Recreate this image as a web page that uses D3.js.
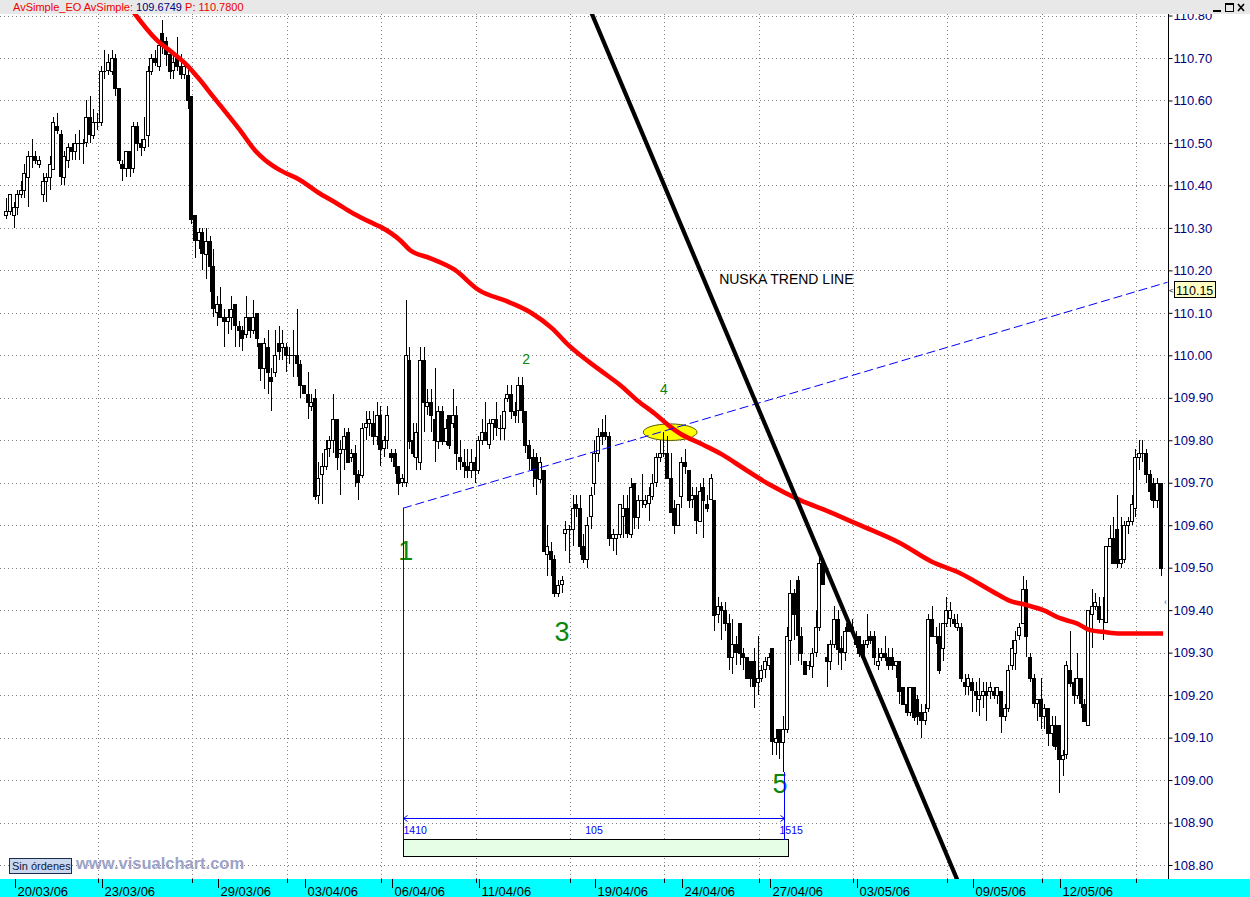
<!DOCTYPE html>
<html><head><meta charset="utf-8">
<script src="https://cdn.jsdelivr.net/npm/d3@7"></script>
<style>
body{margin:0;background:#fff}
svg{display:block}
text{font-family:"Liberation Sans",Arial,sans-serif}
</style>
</head><body>
<svg id="c" width="1250" height="897"></svg>
<script>
// ---------------- DATA ----------------
const barStart = 1301; // bar number of first candle
const opens = [
110.33,110.34,110.33,110.35,110.38,110.39,110.42,110.47,110.47,110.45,
110.38,110.41,110.42,110.44,110.54,110.52,110.42,110.46,110.49,110.48,
110.50,110.50,110.50,110.56,110.52,110.55,110.55,110.67,110.67,110.67,
110.70,110.63,110.45,110.44,110.48,110.44,110.54,110.50,110.49,110.52,
110.67,110.70,110.68,110.76,110.74,110.71,110.67,110.70,110.68,110.66,
110.66,110.61,110.33,110.27,110.29,110.24,110.27,110.21,110.10,110.12,
110.09,110.08,110.09,110.12,110.07,110.06,110.05,110.09,110.06,110.10,
110.03,109.97,110.02,109.95,109.96,110.03,110.02,110.02,110.00,110.00,
110.00,109.98,109.93,109.91,109.88,109.90,109.67,109.72,109.74,109.78,
109.80,109.85,109.77,109.78,109.82,109.76,109.77,109.72,109.72,109.83,
109.84,109.84,109.81,109.86,109.78,109.80,109.77,109.77,109.74,109.70,
109.70,109.99,109.80,109.76,109.75,109.99,109.88,109.89,109.85,109.80,
109.87,109.80,109.86,109.84,109.86,109.76,109.75,109.74,109.73,109.75,
109.73,109.80,109.82,109.79,109.84,109.85,109.83,109.83,109.90,109.91,
109.87,109.87,109.93,109.87,109.79,109.76,109.76,109.71,109.73,109.53,
109.54,109.52,109.44,109.46,109.58,109.59,109.59,109.65,109.64,109.55,
109.52,109.62,109.70,109.77,109.82,109.82,109.81,109.57,109.57,109.58,
109.62,109.64,109.58,109.70,109.62,109.66,109.65,109.65,109.67,109.70,
109.76,109.77,109.77,109.71,109.64,109.60,109.67,109.75,109.73,109.66,
109.67,109.61,109.69,109.65,109.66,109.66,109.39,109.41,109.40,109.37,
109.29,109.32,109.37,109.30,109.29,109.28,109.28,109.23,109.24,109.26,
109.27,109.31,109.09,109.12,109.09,109.12,109.33,109.44,109.47,109.34,
109.28,109.27,109.27,109.30,109.36,109.51,109.29,109.28,109.32,109.38,
109.31,109.30,109.37,109.35,109.33,109.34,109.32,109.32,109.34,109.34,
109.27,109.29,109.30,109.29,109.29,109.27,109.28,109.22,109.18,109.16,
109.22,109.19,109.16,109.14,109.17,109.38,109.34,109.34,109.31,109.37,
109.38,109.38,109.36,109.36,109.23,109.22,109.23,109.21,109.19,109.20,
109.21,109.21,109.21,109.20,109.21,109.15,109.17,109.27,109.30,109.34,
109.37,109.45,109.29,109.24,109.18,109.19,109.15,109.17,109.11,109.13,
109.13,109.05,109.06,109.26,109.23,109.20,109.24,109.18,109.13,109.39,
109.41,109.41,109.38,109.37,109.55,109.57,109.59,109.51,109.52,109.60,
109.61,109.64,109.76,109.77,109.77,109.72,109.70,109.66,109.70];
const highs = [
110.37,110.38,110.36,110.39,110.41,110.45,110.48,110.51,110.48,110.47,
110.43,110.43,110.47,110.56,110.57,110.53,110.48,110.50,110.50,110.52,
110.53,110.51,110.60,110.61,110.58,110.57,110.68,110.72,110.71,110.72,
110.71,110.63,110.46,110.48,110.48,110.55,110.55,110.51,110.56,110.68,
110.71,110.72,110.74,110.79,110.75,110.72,110.71,110.75,110.71,110.69,
110.68,110.61,110.33,110.30,110.30,110.30,110.28,110.25,110.14,110.16,
110.11,110.11,110.14,110.12,110.08,110.07,110.14,110.09,110.13,110.10,
110.03,110.04,110.06,109.97,110.06,110.07,110.06,110.03,110.02,110.06,
110.11,109.99,109.93,109.96,109.91,109.92,109.75,109.77,109.80,109.81,
109.91,109.85,109.80,109.83,109.83,109.78,109.79,109.73,109.84,109.87,
109.87,109.87,109.89,109.88,109.81,109.88,109.78,109.78,109.74,109.72,
110.13,110.02,109.84,109.84,110.02,110.02,109.92,109.92,109.97,109.88,
109.88,109.85,109.86,109.92,109.88,109.80,109.78,109.78,109.78,109.76,
109.81,109.85,109.89,109.85,109.85,109.89,109.86,109.90,109.93,109.93,
109.89,109.95,109.95,109.87,109.80,109.78,109.77,109.76,109.73,109.60,
109.56,109.53,109.47,109.48,109.61,109.60,109.67,109.67,109.67,109.58,
109.62,109.69,109.80,109.83,109.85,109.86,109.82,109.59,109.58,109.65,
109.67,109.67,109.71,109.70,109.67,109.72,109.67,109.69,109.72,109.77,
109.80,109.82,109.81,109.77,109.66,109.65,109.76,109.78,109.73,109.69,
109.69,109.70,109.71,109.67,109.72,109.66,109.43,109.42,109.42,109.39,
109.38,109.34,109.37,109.31,109.29,109.28,109.31,109.34,109.27,109.29,
109.30,109.31,109.12,109.12,109.15,109.36,109.47,109.45,109.48,109.36,
109.28,109.28,109.31,109.40,109.53,109.52,109.32,109.33,109.41,109.40,
109.34,109.36,109.37,109.38,109.35,109.34,109.33,109.39,109.35,109.35,
109.31,109.31,109.34,109.31,109.31,109.28,109.28,109.22,109.22,109.22,
109.22,109.20,109.18,109.18,109.39,109.41,109.36,109.37,109.37,109.43,
109.42,109.39,109.39,109.37,109.25,109.25,109.24,109.23,109.24,109.23,
109.23,109.23,109.22,109.22,109.21,109.18,109.27,109.33,109.35,109.37,
109.48,109.47,109.30,109.25,109.19,109.24,109.18,109.17,109.15,109.15,
109.13,109.07,109.28,109.35,109.24,109.30,109.24,109.19,109.40,109.45,
109.44,109.43,109.43,109.55,109.60,109.62,109.67,109.62,109.61,109.62,
109.67,109.78,109.80,109.80,109.78,109.73,109.71,109.71,109.70];
const lows = [
110.32,110.33,110.30,110.33,110.37,110.37,110.35,110.44,110.45,110.44,
110.36,110.36,110.39,110.44,110.52,110.40,110.40,110.44,110.46,110.46,
110.46,110.45,110.49,110.50,110.51,110.53,110.54,110.65,110.66,110.66,
110.61,110.45,110.41,110.42,110.42,110.43,110.48,110.47,110.48,110.49,
110.66,110.68,110.67,110.71,110.68,110.65,110.65,110.67,110.65,110.65,
110.58,110.31,110.23,110.25,110.20,110.18,110.15,110.09,110.07,110.09,
110.02,110.05,110.06,110.02,110.02,110.01,110.04,110.04,110.05,110.02,
109.94,109.92,109.91,109.87,109.95,109.99,109.99,109.96,109.98,109.95,
109.95,109.90,109.91,109.85,109.87,109.66,109.65,109.65,109.73,109.76,
109.77,109.73,109.67,109.73,109.75,109.75,109.69,109.66,109.71,109.80,
109.81,109.79,109.79,109.74,109.76,109.78,109.75,109.72,109.67,109.69,
109.69,109.78,109.76,109.73,109.73,109.82,109.86,109.82,109.75,109.78,
109.79,109.79,109.78,109.83,109.73,109.73,109.71,109.71,109.71,109.70,
109.72,109.79,109.81,109.78,109.80,109.81,109.80,109.80,109.89,109.85,
109.84,109.84,109.84,109.77,109.73,109.69,109.67,109.70,109.54,109.48,
109.48,109.43,109.43,109.44,109.54,109.51,109.55,109.62,109.53,109.51,
109.50,109.59,109.67,109.75,109.79,109.80,109.55,109.54,109.53,109.57,
109.57,109.57,109.57,109.59,109.59,109.64,109.64,109.61,109.66,109.69,
109.75,109.76,109.71,109.63,109.58,109.60,109.64,109.72,109.64,109.64,
109.58,109.61,109.57,109.63,109.66,109.35,109.37,109.33,109.35,109.26,
109.25,109.27,109.27,109.26,109.24,109.22,109.17,109.20,109.23,109.24,
109.26,109.06,109.06,109.05,109.02,109.11,109.27,109.33,109.28,109.27,
109.25,109.26,109.24,109.29,109.35,109.46,109.22,109.26,109.31,109.27,
109.26,109.28,109.35,109.35,109.31,109.29,109.28,109.31,109.32,109.27,
109.26,109.28,109.28,109.26,109.26,109.24,109.18,109.18,109.15,109.15,
109.14,109.13,109.10,109.13,109.16,109.34,109.32,109.25,109.28,109.36,
109.36,109.36,109.35,109.23,109.20,109.20,109.16,109.16,109.15,109.17,
109.14,109.19,109.19,109.18,109.11,109.14,109.16,109.26,109.26,109.33,
109.37,109.29,109.23,109.17,109.14,109.12,109.12,109.08,109.08,109.07,
108.97,109.01,109.05,109.22,109.18,109.19,109.17,109.14,109.13,109.31,
109.40,109.37,109.33,109.37,109.55,109.51,109.50,109.50,109.51,109.58,
109.60,109.62,109.73,109.75,109.70,109.66,109.64,109.64,109.48];
const closes = [
110.34,110.38,110.35,110.38,110.39,110.43,110.47,110.47,110.46,110.46,
110.41,110.42,110.45,110.55,110.53,110.42,110.47,110.49,110.48,110.50,
110.50,110.50,110.56,110.52,110.55,110.55,110.67,110.67,110.69,110.70,
110.63,110.46,110.44,110.48,110.44,110.54,110.50,110.49,110.51,110.67,
110.70,110.69,110.73,110.73,110.71,110.67,110.69,110.68,110.66,110.68,
110.60,110.32,110.27,110.29,110.24,110.27,110.21,110.11,110.12,110.09,
110.08,110.09,110.11,110.07,110.06,110.04,110.09,110.06,110.09,110.04,
109.97,110.03,109.96,109.94,110.00,110.01,110.03,110.00,110.00,110.00,
109.98,109.93,109.91,109.89,109.89,109.67,109.71,109.74,109.78,109.80,
109.85,109.76,109.78,109.81,109.75,109.77,109.72,109.70,109.83,109.84,
109.85,109.81,109.86,109.78,109.80,109.86,109.76,109.74,109.70,109.71,
110.00,109.80,109.77,109.82,109.99,109.89,109.89,109.86,109.80,109.87,
109.80,109.83,109.79,109.86,109.77,109.75,109.74,109.73,109.75,109.73,
109.80,109.82,109.80,109.84,109.85,109.83,109.83,109.87,109.91,109.87,
109.86,109.93,109.87,109.79,109.76,109.73,109.71,109.75,109.54,109.55,
109.52,109.44,109.46,109.47,109.59,109.59,109.64,109.64,109.55,109.52,
109.60,109.67,109.77,109.81,109.81,109.81,109.57,109.58,109.58,109.65,
109.64,109.58,109.69,109.62,109.66,109.66,109.66,109.67,109.70,109.76,
109.77,109.77,109.71,109.63,109.60,109.65,109.75,109.74,109.66,109.67,
109.61,109.68,109.66,109.64,109.71,109.39,109.41,109.40,109.37,109.29,
109.32,109.30,109.30,109.29,109.24,109.24,109.22,109.24,109.26,109.28,
109.29,109.09,109.10,109.09,109.12,109.34,109.44,109.39,109.34,109.30,
109.25,109.27,109.30,109.36,109.51,109.46,109.28,109.32,109.38,109.31,
109.30,109.35,109.35,109.36,109.32,109.30,109.29,109.33,109.33,109.29,
109.28,109.30,109.29,109.27,109.27,109.28,109.21,109.18,109.16,109.22,
109.15,109.15,109.14,109.16,109.38,109.34,109.34,109.26,109.37,109.40,
109.40,109.37,109.37,109.24,109.22,109.24,109.21,109.20,109.20,109.21,
109.20,109.22,109.20,109.22,109.15,109.17,109.26,109.31,109.33,109.36,
109.45,109.34,109.24,109.18,109.19,109.15,109.17,109.11,109.13,109.08,
109.05,109.06,109.27,109.23,109.20,109.24,109.18,109.14,109.40,109.41,
109.42,109.38,109.38,109.55,109.57,109.51,109.51,109.52,109.60,109.61,
109.65,109.76,109.77,109.77,109.72,109.68,109.66,109.70,109.50];

// simple moving average (red) at bar positions
const smaIdx = [33.3,41.2,45.7,49.4,53.1,56.7,58.6,64.1,68.2,71.0,75.1,80.6,86.1,90.7,95.3,99.9,102.7,108.2,110.9,116.4,123.3,129.8,138.0,144.5,150.0,154.6,163.3,168.8,173.4,178.9,182.6,185.3,191.8,197.2,202.8,210.1,218.4,226.6,234.9,245.9,254.7,262.5,271.6,276.2,280.8,285.4,290.0,294.6,298.3,301.9,306.5,318.4];
const smaVal = [110.825,110.742,110.711,110.684,110.648,110.609,110.589,110.530,110.483,110.460,110.436,110.413,110.381,110.358,110.334,110.314,110.303,110.271,110.248,110.229,110.201,110.154,110.126,110.099,110.064,110.024,109.965,109.930,109.895,109.859,109.832,109.816,109.789,109.765,109.734,109.695,109.659,109.631,109.600,109.558,109.514,109.487,109.443,109.422,109.412,109.400,109.381,109.369,109.353,109.349,109.345,109.345];

// NUSKA trend line (black) and channel line (blue dashed): two anchors each
const trendIdx = [160, 262];
const trendVal = [110.825, 108.759];
const chanIdx = [109, 319.6];
const chanVal = [109.640, 110.172];
const chanLabel = "110.15";

// price axis
const yTicks = [110.80,110.70,110.60,110.50,110.40,110.30,110.20,110.10,110.00,109.90,109.80,109.70,109.60,109.50,109.40,109.30,109.20,109.10,109.00,108.90,108.80];
// date axis
const dateLabels = ["20/03/06","23/03/06","29/03/06","03/04/06","06/04/06","11/04/06","19/04/06","24/04/06","27/04/06","03/05/06","09/05/06","12/05/06"];
const dateIdx = [2,26,58,82,106,130,162,186,210,234,266,290];
const gridIdx = [25,51,77,103,129,155,181,207,233,259,285,311];

// wave count labels
const waveText = ["1","2","3","4","5"];
const waveIdx = [109.8,142.9,152.8,180.9,212.9];
const waveVal = [109.542,109.991,109.351,109.921,108.993];
const waveBig = [true,false,true,false,true];

// marked point (yellow ellipse)
const markIdx = 182.6, markVal = 109.819;
// measurement between bars
const measureIdx = [109, 214];
const noteText = "NUSKA TREND LINE", noteIdx = 196.1, noteVal = 110.18;

// ---------------- CHART ----------------
const W = 1250, H = 897;
const plotL = 0, plotR = 1168, plotT = 14, plotB = 879;
const svg = d3.select("#c");

const x = d3.scaleLinear().domain([0, 318]).range([7.3, 7.3 + 318 * 3.63]);
const y = d3.scaleLinear().domain([108.8, 110.7]).range([865, 58]);

svg.append("rect").attr("width", W).attr("height", H).attr("fill", "#fff");

const defs = svg.append("defs");
defs.append("clipPath").attr("id", "plotclip").append("rect")
  .attr("x", plotL).attr("y", plotT).attr("width", plotR - plotL).attr("height", plotB - plotT);

const plot = svg.append("g").attr("clip-path", "url(#plotclip)");

// grid
plot.append("g").selectAll("line").data(yTicks).join("line")
  .attr("x1", 0).attr("x2", plotR)
  .attr("y1", d => Math.round(y(d)) + 0.5).attr("y2", d => Math.round(y(d)) + 0.5)
  .attr("stroke", "#808080").attr("stroke-dasharray", "1,3");
plot.append("g").selectAll("line").data(gridIdx).join("line")
  .attr("x1", d => Math.round(x(d)) + 0.5).attr("x2", d => Math.round(x(d)) + 0.5)
  .attr("y1", plotT).attr("y2", plotB)
  .attr("stroke", "#808080").attr("stroke-dasharray", "1,3");

// yellow ellipse
const ex = x(markIdx), ey = y(markVal);
plot.append("ellipse").attr("cx", ex).attr("cy", ey)
  .attr("rx", x(markIdx + 7.4) - ex).attr("ry", y(markVal - 0.0195) - ey)
  .attr("fill", "#ffff00").attr("stroke", "#5a5a00").attr("stroke-width", 1);

// candles
const bars = d3.range(closes.length).map(i => ({i, o: opens[i], h: highs[i], l: lows[i], c: closes[i]}));
const cg = plot.append("g").attr("shape-rendering", "crispEdges");
const cand = cg.selectAll("g").data(bars).join("g");
cand.append("line")
  .attr("x1", d => Math.round(x(d.i)) - 0.5).attr("x2", d => Math.round(x(d.i)) - 0.5)
  .attr("y1", d => y(d.h)).attr("y2", d => y(d.l))
  .attr("stroke", "#000").attr("stroke-width", 1);
cand.append("rect")
  .attr("x", d => Math.round(x(d.i)) - 2.5)
  .attr("y", d => Math.round(y(Math.max(d.o, d.c))) + 0.5)
  .attr("width", 3)
  .attr("height", d => Math.max(0.01, Math.round(Math.abs(y(d.o) - y(d.c)))))
  .attr("fill", d => d.c >= d.o ? "#fff" : "#000")
  .attr("stroke", "#000").attr("stroke-width", 1);

// red SMA
plot.append("path")
  .datum(smaIdx.map((k, j) => [k, smaVal[j]]))
  .attr("d", d3.line().x(d => x(d[0])).y(d => y(d[1])).curve(d3.curveMonotoneX))
  .attr("fill", "none").attr("stroke", "#ff0000").attr("stroke-width", 4.6)
  .attr("stroke-linejoin", "round");

// blue dashed channel line
plot.append("line")
  .attr("x1", x(chanIdx[0])).attr("y1", y(chanVal[0]))
  .attr("x2", x(chanIdx[1])).attr("y2", y(chanVal[1]))
  .attr("stroke", "#0000ff").attr("stroke-width", 1).attr("stroke-dasharray", "9,4");

// black trend line
plot.append("line")
  .attr("x1", x(trendIdx[0])).attr("y1", y(trendVal[0]))
  .attr("x2", x(trendIdx[1])).attr("y2", y(trendVal[1]))
  .attr("stroke", "#000").attr("stroke-width", 4.2);

// annotation text
plot.append("text").attr("x", x(noteIdx)).attr("y", y(noteVal) + 5)
  .attr("font-size", 14).attr("fill", "#000").text(noteText);

// wave labels
plot.append("g").selectAll("text").data(waveText).join("text")
  .attr("x", (d, j) => x(waveIdx[j])).attr("y", (d, j) => y(waveVal[j]))
  .attr("dy", "0.36em").attr("text-anchor", "middle")
  .attr("font-size", (d, j) => waveBig[j] ? 27 : 14)
  .attr("fill", "#0a870a").text(d => d);

// measurement tool
const mx0 = Math.round(x(measureIdx[0])) + 0.5, mx1 = Math.round(x(measureIdx[1])) + 0.5;
const mg = plot.append("g").attr("shape-rendering", "crispEdges");
mg.append("rect").attr("x", mx0 - 0.5).attr("y", 839.5).attr("width", mx1 - mx0 + 4).attr("height", 17)
  .attr("fill", "#e6fde6").attr("stroke", "#000");
mg.append("line").attr("x1", mx0).attr("x2", mx0).attr("y1", y(chanVal[0])).attr("y2", 840)
  .attr("stroke", "#0000ff");
mg.append("line").attr("x1", mx1).attr("x2", mx1).attr("y1", y(lows[measureIdx[1]])).attr("y2", 840)
  .attr("stroke", "#0000ff");
mg.append("line").attr("x1", mx0).attr("x2", mx1).attr("y1", 818.5).attr("y2", 818.5)
  .attr("stroke", "#0000ff");
plot.append("path").attr("d", `M${mx0+4},815.5L${mx0},818.5L${mx0+4},821.5 M${mx1-4},815.5L${mx1},818.5L${mx1-4},821.5`)
  .attr("fill", "none").attr("stroke", "#0000ff");
const mtxt = plot.append("g").attr("font-size", 10.5).attr("fill", "#0000ff");
mtxt.append("text").attr("x", mx0).attr("y", 834).text(barStart + measureIdx[0]);
mtxt.append("text").attr("x", (mx0 + mx1) / 2).attr("y", 834).attr("text-anchor", "middle")
  .text(measureIdx[1] - measureIdx[0]);
mtxt.append("text").attr("x", mx1 - 5).attr("y", 834).text(barStart + measureIdx[1]);

// watermark & order box
svg.append("rect").attr("x", 9.5).attr("y", 858.5).attr("width", 62).attr("height", 15)
  .attr("fill", "#c9d7ef").attr("stroke", "#1c2c4c");
svg.append("text").attr("x", 12).attr("y", 870).attr("font-size", 11).attr("fill", "#102040").text("Sin órdenes");
svg.append("text").attr("x", 76).attr("y", 869).attr("font-size", 16.5).attr("font-weight", "bold")
  .attr("fill", "#9da2ca").text("www.visualchart.com");

// right price axis
const ax = svg.append("g").attr("transform", `translate(${plotR + 0.5},0)`)
  .call(d3.axisRight(y).tickValues(yTicks).tickFormat(d3.format(".2f")).tickSize(4).tickPadding(1));
ax.select(".domain").remove();
ax.selectAll(".tick line").attr("stroke", "#000");
ax.selectAll(".tick text").attr("fill", "#000080").attr("font-size", 13)
  .attr("font-family", '"Liberation Sans",Arial,sans-serif');
svg.append("line").attr("x1", plotR + 0.5).attr("x2", plotR + 0.5).attr("y1", plotT).attr("y2", plotB)
  .attr("stroke", "#000");

// channel value label
const ly = Math.round(y(chanVal[1])) + 8;
svg.append("rect").attr("x", 1174.5).attr("y", ly - 8.5).attr("width", 41).attr("height", 16)
  .attr("fill", "#ffffc4").attr("stroke", "#000");
svg.append("text").attr("x", 1176).attr("y", ly + 4.5).attr("font-size", 12.5).attr("fill", "#000").text(chanLabel);
svg.append("text").attr("x", 1169).attr("y", ly + 3).attr("font-size", 8).attr("fill", "#000").text("<");
svg.append("text").attr("x", 1164).attr("y", y(closes[closes.length - 1]) + 37).attr("font-size", 9)
  .attr("fill", "#4060c0").text("‹");

// date strip
svg.append("rect").attr("x", 0).attr("y", plotB).attr("width", W).attr("height", H - plotB).attr("fill", "#00ffff");
const dg = svg.append("g");
dg.selectAll("line.g").data(gridIdx).join("line").attr("class", "g")
  .attr("x1", d => Math.round(x(d)) + 0.5).attr("x2", d => Math.round(x(d)) + 0.5)
  .attr("y1", plotB).attr("y2", plotB + 4).attr("stroke", "#000");
dg.selectAll("line.d").data(dateIdx).join("line").attr("class", "d")
  .attr("x1", d => Math.round(x(d)) + 0.5).attr("x2", d => Math.round(x(d)) + 0.5)
  .attr("y1", plotB).attr("y2", plotB + 9).attr("stroke", "#000");
dg.selectAll("text").data(dateLabels).join("text")
  .attr("x", (d, j) => Math.round(x(dateIdx[j])) + 2.5).attr("y", 895.5)
  .attr("font-size", 13).attr("fill", "#000").text(d => d);

// header bar
svg.append("rect").attr("x", 0).attr("y", 0).attr("width", W).attr("height", plotT).attr("fill", "#e8e8e8");
const ht = svg.append("text").attr("x", 13).attr("y", 11).attr("font-size", 11);
ht.append("tspan").attr("fill", "#ee0000").text("AvSimple_EO  AvSimple: ");
ht.append("tspan").attr("fill", "#000080").text("109.6749");
ht.append("tspan").attr("fill", "#ee0000").text("  P: 110.7800");
const btn = svg.append("g").attr("shape-rendering", "crispEdges");
btn.append("rect").attr("x", 1213).attr("y", 10).attr("width", 8).attr("height", 2).attr("fill", "#000");
btn.append("rect").attr("x", 1225.5).attr("y", 3.5).attr("width", 8).attr("height", 8).attr("fill", "none").attr("stroke", "#000");
btn.append("rect").attr("x", 1225).attr("y", 3).attr("width", 9).attr("height", 2).attr("fill", "#000");
svg.append("path").attr("d", "M1238,4L1244,11M1244,4L1238,11").attr("stroke", "#000").attr("stroke-width", 1.6);
</script>
</body></html>
